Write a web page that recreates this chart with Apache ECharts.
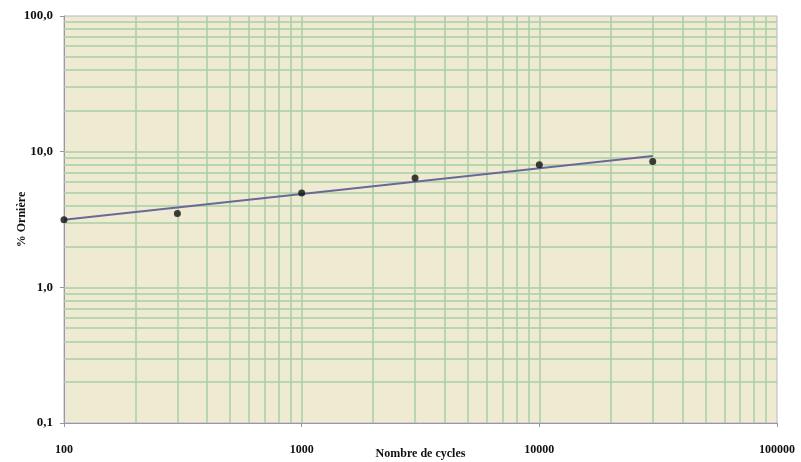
<!DOCTYPE html>
<html>
<head>
<meta charset="utf-8">
<script src="https://cdn.jsdelivr.net/npm/echarts@6/dist/echarts.min.js"></script>
<style>html,body{margin:0;padding:0;background:#fff}#c{width:801px;height:462px}</style>
</head>
<body>
<div id="c"></div>
<script>
// Data
const cycles = [100, 300, 1000, 3000, 10000, 30000];
const ornierePct = [3.15, 3.5, 4.95, 6.4, 8.0, 8.45];
// Trend line (power fit) endpoints
const trendX = [100, 30000];
const trendY = [3.15, 9.3];
// Axis ranges and ticks
const xTicks = [100, 1000, 10000, 100000];
const yTicks = [0.1, 1, 10, 100];

const gridGreen = '#a9cfa6';
const xGrid = [], yGrid = [];
for (let d = 100; d < 100000; d *= 10) for (let k = 1; k < 10; k++) xGrid.push(d * k);
for (let d = 0.1; d < 99; d *= 10) for (let k = 1; k < 10; k++) yGrid.push(+(d * k).toPrecision(3));

const serif = '"Liberation Serif", "DejaVu Serif", serif';
const chart = echarts.init(document.getElementById('c'));
chart.setOption({
  animation: false,
  grid: { left: 64, right: 24, top: 16, bottom: 39, containLabel: false, outerBoundsMode: 'none',
    show: true, backgroundColor: '#eeebd2', borderColor: '#b9b4c4', borderWidth: 1 },
  xAxis: {
    type: 'log', logBase: 10, min: xTicks[0], max: xTicks[xTicks.length - 1],
    name: 'Nombre de cycles', nameLocation: 'middle', nameGap: 25, nameMoveOverlap: false,
    nameTextStyle: { fontFamily: serif, fontWeight: 'bold', fontSize: 12, color: '#111', verticalAlign: 'top' },
    axisLine: { show: true, lineStyle: { color: '#9a95ad', width: 1 } },
    axisTick: { show: true, length: 4, lineStyle: { color: '#9a95ad' } },
    axisLabel: { fontFamily: serif, fontWeight: 'bold', fontSize: 12, color: '#111', margin: 21,
      formatter: v => String(Math.round(v)) },
    splitLine: { show: false }
  },
  yAxis: {
    type: 'log', logBase: 10, min: yTicks[0], max: yTicks[yTicks.length - 1],
    name: '% Ornière', nameLocation: 'middle', nameGap: 36, nameMoveOverlap: false,
    nameTextStyle: { fontFamily: serif, fontWeight: 'bold', fontSize: 12, color: '#111' },
    axisLine: { show: true, lineStyle: { color: '#9a95ad', width: 1 } },
    axisTick: { show: true, length: 4, lineStyle: { color: '#9a95ad' } },
    axisLabel: { fontFamily: serif, fontWeight: 'bold', fontSize: 13, color: '#111', margin: 11,
      formatter: v => (+v).toFixed(1).replace('.', ',') },
    splitLine: { show: false }
  },
  series: [
    {
      type: 'line', data: [], silent: true, z: 1,
      markLine: {
        silent: true, symbol: ['none', 'none'], label: { show: false }, animation: false,
        lineStyle: { color: gridGreen, width: 1.5, type: 'solid' },
        data: xGrid.filter(v => v > 100).map(v => ({ xAxis: v })).concat(yGrid.filter(v => v > 0.1).map(v => ({ yAxis: v })))
      }
    },
    {
      type: 'line', data: trendX.map((x, i) => [x, trendY[i]]), symbol: 'none', zlevel: 1,
      lineStyle: { color: '#6a6898', width: 2 }, z: 3
    },
    {
      type: 'scatter', data: cycles.map((x, i) => [x, ornierePct[i]]), symbolSize: 7, zlevel: 1,
      itemStyle: { color: '#111' }, z: 4
    }
  ]
});
</script>
</body>
</html>
